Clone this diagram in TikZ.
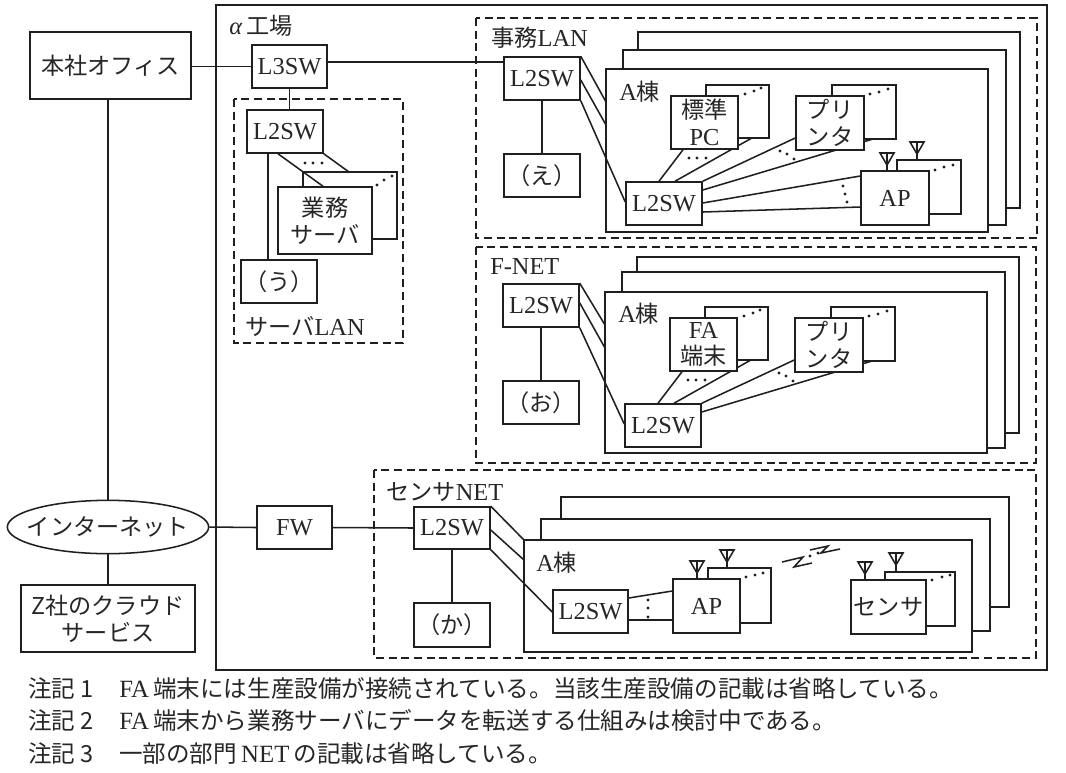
\documentclass[tikz,border=0pt]{standalone}
\usepackage{fontspec}
\setmainfont{Liberation Serif}
\newfontfamily\cjk{Noto Sans CJK JP}[Scale=0.95]
\usetikzlibrary{shapes.geometric}
\tikzset{
 line/.style={line width=1.15pt,draw=black!88},
 dashbox/.style={line width=1.15pt,draw=black!88,dash pattern=on 6pt off 3.5pt},
 bx/.style={line width=1.15pt,draw=black!88,fill=white},
 txt/.style={font=\fontsize{18.3}{20}\selectfont,text=black!85,align=center,inner sep=0pt},
 note/.style={font=\fontsize{18.6}{20}\selectfont,text=black!85,anchor=west,inner sep=0pt},
 pt/.style={circle,fill=black!88,inner sep=0pt,minimum size=2.4pt},
}
\newcommand{\bxn}[6]{\node[bx,txt,minimum width={(#4-#2)*0.75pt},minimum height={(#5-#3)*0.75pt}] (#1) at ({(#2+#4)/2},{(#3+#5)/2}) {#6};}
\newcommand{\rct}[4]{\draw[bx] (#1,#2) rectangle (#3,#4);}
\newcommand{\pts}[6]{\node[pt] at (#1,#2) {};\node[pt] at (#3,#4) {};\node[pt] at (#5,#6) {};}
\newcommand{\ant}[3]{\draw[line] (#1-7,#2) -- (#1+7,#2) -- (#1,#2+12) -- cycle (#1,#2) -- (#1,#3);}
\newcommand{\notelab}[1]{\makebox[68.25pt][l]{\cjk #1}}
\begin{document}
\begin{tikzpicture}[x=0.75pt,y=-0.75pt]
\useasboundingbox (0,0) rectangle (1066,772);
\fill[white] (0,0) rectangle (1066,772);
% factory
\draw[line] (216,5) rectangle (1047,670);
\node[txt,anchor=west] (alpha) at (229,26) {\textit{α}\,{\cjk 工場}};
% HQ
\bxn{hq}{30}{32}{191}{99}{\cjk 本社オフィス}
\bxn{l3}{252}{45}{327}{88}{L3SW}
% left bottom
\node[bx,txt,ellipse,minimum width=151pt,minimum height=40pt,label={[txt]center:{\cjk インターネット}}] (inet) at (108,527) {};
\bxn{fw}{257}{506}{332}{549}{FW}
\bxn{zc}{21}{585}{195}{652}{{\cjk Z社のクラウド}\\{\cjk サービス}}
\draw[line] (hq.south -| inet.north) -- (inet.north);
\draw[line] (inet.south) -- (inet.south |- zc.north);
\draw[line] (inet.east) -- (fw.west);
\draw[line] (hq.east |- l3.west) -- (l3.west);
% server LAN
\draw[dashbox] (234,99) rectangle (403,343);
\node[txt] (srvlabel) at (305,327) {{\cjk サーバ}LAN};
\bxn{sl2}{247}{110}{323}{153}{L2SW}
\draw[line] (l3.south |- sl2.north) -- (l3.south);
\rct{303}{172}{397}{239}
\bxn{srv}{278}{187}{372}{254}{{\cjk 業務}\\{\cjk サーバ}}
\bxn{u}{241}{260}{317}{303}{\cjk（う）}
\draw[line] (sl2.south -| 268,0) -- (u.north -| 268,0);
\draw[line] (sl2.south -| 278,0) -- (srv.north -| 323,0);
\draw[line] (sl2.south east) -- (349,172);
\pts{305}{163}{313}{163}{322}{163}
\pts{377}{185}{384}{180}{392}{176}
% office LAN
\draw[dashbox] (476,18) rectangle (1037,238);
\node[txt,anchor=west] (oflabel) at (491,38) {{\cjk 事務}LAN};
\rct{638}{32}{1020}{208}
\rct{623}{50}{1006}{225}
\rct{606}{69}{988}{232}
\node[txt,anchor=west] (a1) at (619,92) {A{\cjk 棟}};
\bxn{o2}{504}{57}{580}{100}{L2SW}
\bxn{e}{504}{154}{580}{197}{\cjk（え）}
\draw[line] (l3.east |- 0,62) -- (o2.west |- 0,62);
\draw[line] (o2) -- (e);
\draw[line] (o2.north east) -- (606,102);
\draw[line] (o2.east |- 0,80) -- (606,125);
\bxn{o3}{626}{182}{702}{225}{L2SW}
\draw[line] (o2.south east) -- (o3.west |- 0,202);
\rct{706}{85}{769}{138}
\draw[line] (o3.north -| 675,0) -- (751,138.5);
\bxn{pc}{671}{96}{738}{149}{{\cjk 標準}\\PC}
\rct{832}{85}{896}{139}
\draw[line] (o3.east |- 0,190) -- (873,139);
\bxn{pr}{796}{96}{864}{150}{{\cjk プリ}\\{\cjk ンタ}}
\ant{917}{142}{160}
\rct{897}{160}{961}{214}
\ant{887}{153}{171}
\bxn{ap}{861}{171}{929}{225}{AP}
\draw[line] (o3.north -| 659,0) -- (pc.south -| 683,0);
\draw[line] (o3.north east) -- (pr.west |- 0,138);
\draw[line] (o3.east |- 0,203) -- (ap.west |- 0,176);
\draw[line] (o3.east |- 0,212) -- (ap.west |- 0,207);
\pts{689}{158}{697}{158}{706}{158}
\pts{780}{151}{787}{154}{794}{159}
\pts{843}{186}{845}{194}{847}{202}
\pts{745}{94}{754}{91}{761}{88}
\pts{870}{94}{879}{92}{888}{89}
\pts{935}{170}{944}{167}{953}{165}
% F-NET
\draw[dashbox] (476,247) rectangle (1036,463);
\node[txt,anchor=west] (fnlabel) at (490,267) {F-NET};
\rct{637}{257}{1019}{433}
\rct{622}{272}{1005}{448}
\rct{605}{292}{987}{453}
\node[txt,anchor=west] (a2) at (618,314) {A{\cjk 棟}};
\bxn{f2}{503}{284}{579}{327}{L2SW}
\bxn{o}{503}{381}{579}{424}{\cjk（お）}
\draw[line] (f2) -- (o);
\draw[line] (f2.north east) -- (605,325);
\draw[line] (f2.east |- 0,303) -- (605,348);
\bxn{f3}{625}{404}{701}{447}{L2SW}
\draw[line] (f2.south east) -- (f3.west |- 0,424);
\rct{705}{307}{768}{360}
\draw[line] (f3.north -| 674,0) -- (750,360.5);
\bxn{fa}{670}{318}{737}{371}{FA\\{\cjk 端末}}
\rct{831}{307}{895}{361}
\draw[line] (f3.east |- 0,412) -- (872,361);
\bxn{pf}{795}{318}{863}{372}{{\cjk プリ}\\{\cjk ンタ}}
\draw[line] (f3.north -| 658,0) -- (fa.south -| 682,0);
\draw[line] (f3.north east) -- (pf.west |- 0,360);
\pts{688}{380}{696}{380}{705}{380}
\pts{779}{373}{786}{376}{793}{381}
\pts{744}{316}{753}{313}{760}{310}
\pts{869}{316}{878}{314}{887}{311}
% Sensor NET
\draw[dashbox] (374,470) rectangle (1036,658);
\node[txt,anchor=west] (snlabel) at (386,492) {{\cjk センサ}NET};
\rct{561}{497}{1009}{607}
\rct{541}{519}{990}{631}
\rct{524}{540}{972}{652}
\node[txt,anchor=west] (a3) at (536,563) {A{\cjk 棟}};
\bxn{s2}{414}{507}{490}{549}{L2SW}
\bxn{ka}{414}{603}{490}{647}{\cjk（か）}
\draw[line] (fw.east) -- (s2.west);
\draw[line] (s2) -- (ka);
\draw[line] (s2.north east) -- (524,540);
\draw[line] (s2.east |- 0,530) -- (524,560);
\bxn{s3}{553}{590}{628}{633}{L2SW}
\draw[line] (s2.south east) -- (s3.west |- 0,612);
\ant{727}{550}{568}
\rct{708}{568}{771}{623}
\ant{697}{561}{579}
\bxn{ap2}{673}{579}{740}{633}{AP}
\draw[line] (s3.east |- 0,598) -- (ap2.west |- 0,591);
\draw[line] (s3.east |- 0,620) -- (ap2.west |- 0,620);
\pts{648}{600}{648}{608}{648}{617}
\pts{746}{577}{755}{575}{763}{573}
\ant{896}{553}{572}
\rct{885}{572}{955}{626}
\ant{865}{562}{580}
\bxn{sn}{851}{580}{926}{634}{\cjk センサ}
\pts{932}{580}{942}{577}{950}{575}
\draw[line] (782,562) -- (803,557) -- (794,567) -- (812,563);
\draw[line] (810,550) -- (828,546) -- (821,553) -- (840,549);
\node[pt] at (810,556) {};
\node[pt] at (818,553) {};
% notes
\node[note] (n1) at (28,688) {\notelab{注記 1}FA\,{\cjk 端末には生産設備が接続されている。当該生産設備の記載は省略している。}};
\node[note] (n2) at (28,720) {\notelab{注記 2}FA\,{\cjk 端末から業務サーバにデータを転送する仕組みは検討中である。}};
\node[note] (n3) at (28,753) {\notelab{注記 3}{\cjk 一部の部門}\,NET\,{\cjk の記載は省略している。}};
\end{tikzpicture}
\end{document}
